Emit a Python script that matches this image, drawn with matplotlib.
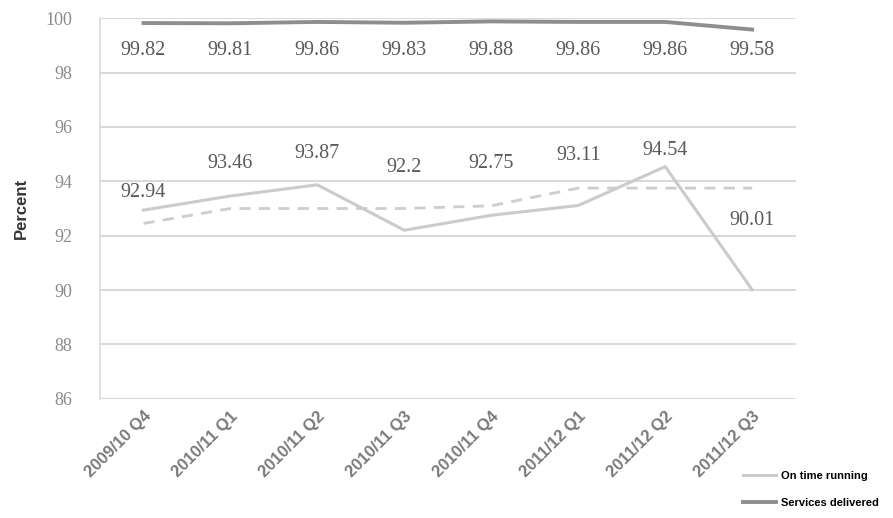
import matplotlib
matplotlib.use("Agg")
import matplotlib.pyplot as plt
from matplotlib import font_manager

# quarters on the x axis
quarters = ["2009/10 Q4", "2010/11 Q1", "2010/11 Q2", "2010/11 Q3",
            "2010/11 Q4", "2011/12 Q1", "2011/12 Q2", "2011/12 Q3"]

# series (percent)
on_time = [92.94, 93.46, 93.87, 92.2, 92.75, 93.11, 94.54, 90.01]
services = [99.82, 99.81, 99.86, 99.83, 99.88, 99.86, 99.86, 99.58]
on_time_avg = [92.45, 93.0, 93.0, 93.0, 93.1, 93.75, 93.75, 93.75]

# where the data labels sit (y, in percent)
on_time_label_y = [93.57, 94.67, 95.04, 94.5, 94.67, 94.96, 95.15, 92.57]
services_label_y = 98.8

names = {f.name for f in font_manager.fontManager.ttflist}
narrow = "Liberation Sans Narrow" if "Liberation Sans Narrow" in names else "Liberation Sans"

fig = plt.figure(figsize=(8.93, 5.18), dpi=100)
ax = fig.add_axes([0.112, 0.23, 0.779, 0.735])

x = range(len(quarters))
ax.plot(x, on_time_avg, color="#cdcdcd", lw=2, dashes=(4, 3))
l1, = ax.plot(x, on_time, color="#cbcbcb", lw=2.2, label="On time running")
l2, = ax.plot(x, services, color="#8e8e8e", lw=2.8, label="Services delivered")

for i, v in enumerate(on_time):
    ax.text(i, on_time_label_y[i], f"{v:g}", ha="center", va="center",
            family="Liberation Serif", fontsize=14.5, color="#5a5a5a")
for i, v in enumerate(services):
    ax.text(i, services_label_y, f"{v:g}", ha="center", va="center",
            family="Liberation Serif", fontsize=14.5, color="#5a5a5a")

ax.set_xlim(-0.5, 7.5)
ax.set_ylim(86, 100)
ax.set_yticks(range(86, 101, 2))
ax.set_yticklabels([str(t) for t in range(86, 101, 2)],
                   family="Liberation Serif", fontsize=13, color="#8a8a8a")
ax.set_xticks(list(x))
ax.set_xticklabels(quarters, rotation=45, ha="right", rotation_mode="anchor",
                   family="Liberation Sans", fontweight="bold", fontsize=12,
                   color="#7a7a7a")
ax.tick_params(axis="both", length=0)
ax.tick_params(axis="y", pad=20)
ax.tick_params(axis="x", pad=7)

ax.grid(axis="y", color="#dadada", lw=1.5)
ax.set_axisbelow(True)
for s in ["top", "right", "bottom"]:
    ax.spines[s].set_visible(False)
ax.spines["left"].set_color("#dadada")
ax.spines["left"].set_linewidth(1.2)

ax.set_ylabel("Percent", family="Liberation Sans", fontweight="bold",
              fontsize=12, color="#333333", labelpad=12)

fig.legend(handles=[l1, l2], loc="lower right", bbox_to_anchor=(0.995, 0.0),
           frameon=False, prop={"family": narrow, "weight": "bold", "size": 8},
           handlelength=3, handletextpad=0.4, labelspacing=1.5)

fig.savefig("out.png", dpi=100)
